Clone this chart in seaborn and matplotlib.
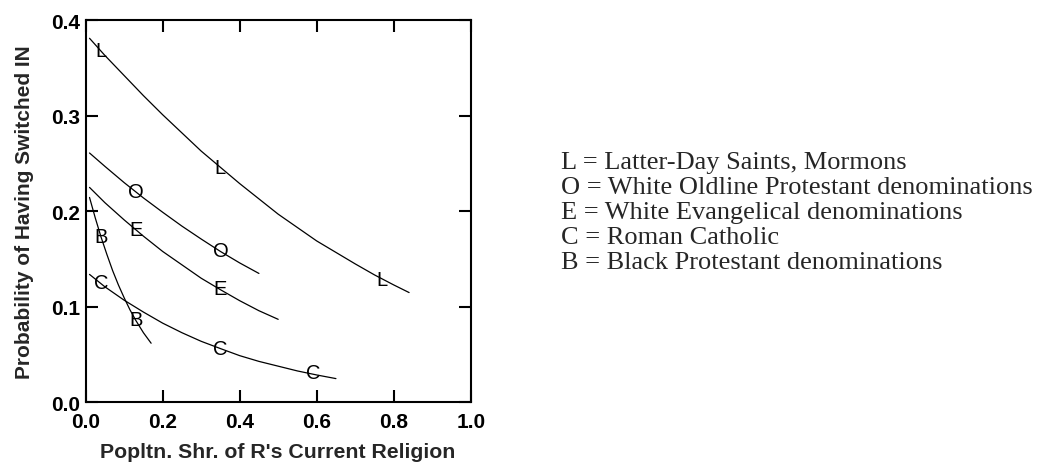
import matplotlib
matplotlib.use("Agg")
import matplotlib.pyplot as plt
import pandas as pd
import seaborn as sns

# Curves (x = population share, p = prob. of switching in)
l_x = [0.01, 0.05, 0.10, 0.15, 0.20, 0.25, 0.30, 0.35, 0.40, 0.45, 0.50,
       0.55, 0.60, 0.65, 0.70, 0.75, 0.80, 0.84]
l_p = [0.381, 0.363, 0.342, 0.321, 0.301, 0.282, 0.263, 0.246, 0.229, 0.213,
       0.197, 0.183, 0.169, 0.157, 0.145, 0.1335, 0.123, 0.115]
o_x = [0.01, 0.05, 0.10, 0.15, 0.20, 0.25, 0.30, 0.35, 0.40, 0.45]
o_p = [0.261, 0.247, 0.230, 0.214, 0.199, 0.1845, 0.171, 0.158, 0.146, 0.135]
e_x = [0.01, 0.05, 0.10, 0.15, 0.20, 0.25, 0.30, 0.35, 0.40, 0.45, 0.50]
e_p = [0.225, 0.209, 0.191, 0.174, 0.158, 0.144, 0.130, 0.118, 0.1065, 0.096, 0.087]
c_x = [0.01, 0.05, 0.10, 0.15, 0.20, 0.25, 0.30, 0.35, 0.40, 0.45, 0.50,
       0.55, 0.60, 0.65]
c_p = [0.134, 0.121, 0.107, 0.0946, 0.083, 0.073, 0.064, 0.0564, 0.049,
       0.043, 0.038, 0.033, 0.0288, 0.025]
b_x = [0.01, 0.025, 0.04, 0.055, 0.07, 0.085, 0.10, 0.115, 0.13, 0.15, 0.17]
b_p = [0.2145, 0.193, 0.173, 0.155, 0.138, 0.123, 0.1095, 0.097, 0.086, 0.073, 0.062]

# letter labels sitting on the curves
lab_letter = ["L", "L", "L", "O", "O", "E", "E", "C", "C", "C", "B", "B"]
lab_x = [0.04, 0.35, 0.77, 0.13, 0.35, 0.13, 0.35, 0.04, 0.35, 0.59, 0.04, 0.13]
lab_y = [0.368, 0.246, 0.129, 0.221, 0.159, 0.181, 0.119, 0.126, 0.057, 0.031, 0.174, 0.087]

key_lines = [
    "L = Latter-Day Saints, Mormons",
    "O = White Oldline Protestant denominations",
    "E = White Evangelical denominations",
    "C = Roman Catholic",
    "B = Black Protestant denominations",
]

frames = []
for name, xs, ps in [("L", l_x, l_p), ("O", o_x, o_p), ("E", e_x, e_p),
                     ("C", c_x, c_p), ("B", b_x, b_p)]:
    frames.append(pd.DataFrame({"x": xs, "p": ps, "grp": name}))
df = pd.concat(frames, ignore_index=True)

sns.set_style("ticks")
plt.rcParams['font.family'] = ['Liberation Sans', 'DejaVu Sans']

fig = plt.figure(figsize=(10.46, 4.64), dpi=100)
ax = fig.add_axes([0.0819, 0.1304, 0.3681, 0.8241])

sns.lineplot(data=df, x="x", y="p", hue="grp", units="grp", estimator=None,
             palette={g: "black" for g in "LOECB"}, linewidth=0.9,
             legend=False, sort=True, ax=ax)

for s, x, y in zip(lab_letter, lab_x, lab_y):
    ax.text(x, y, s, ha="center", va="center", fontsize=14.5, color="black",
            family="Liberation Sans")

ax.set_xlim(0, 1.0)
ax.set_ylim(0, 0.4)
ax.set_xticks([0.0, 0.2, 0.4, 0.6, 0.8, 1.0])
ax.set_yticks([0.0, 0.1, 0.2, 0.3, 0.4])
ax.set_xticklabels(["0.0", "0.2", "0.4", "0.6", "0.8", "1.0"])
ax.set_yticklabels(["0.0", "0.1", "0.2", "0.3", "0.4"])
ax.tick_params(direction="in", length=8.6, width=1.5, top=True, right=True,
               labelsize=15, colors="black")
ax.tick_params(axis="x", pad=6.5)
ax.tick_params(axis="y", pad=4)
for lbl in ax.get_xticklabels() + ax.get_yticklabels():
    lbl.set_fontweight("bold")
for sp in ax.spines.values():
    sp.set_visible(True)
    sp.set_linewidth(1.5)
    sp.set_color("black")

ax.set_xlabel("Popltn. Shr. of R's Current Religion", fontsize=15.3,
              fontweight="bold", labelpad=8)
ax.set_ylabel("Probability of Having Switched IN", fontsize=15,
              fontweight="bold", labelpad=12)

for i, line in enumerate(key_lines):
    fig.text(0.5363, 1 - (169.3 + 25 * i) / 464, line, fontsize=19,
             family="Liberation Serif", va="baseline", ha="left")

fig.savefig("out.png", dpi=100)
